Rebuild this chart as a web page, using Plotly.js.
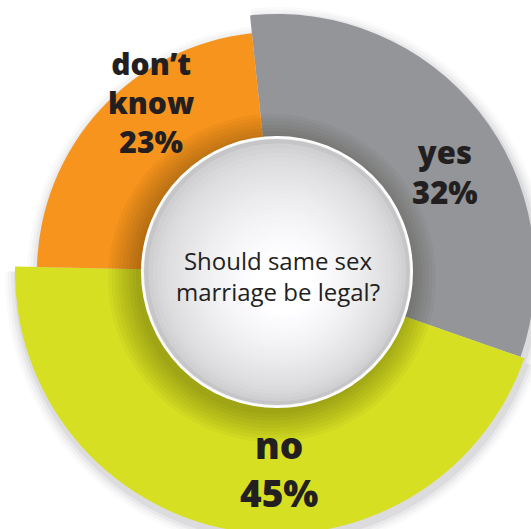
<!DOCTYPE html>
<html>
<head>
<meta charset="utf-8">
<script src="https://cdn.plot.ly/plotly-3.0.1.min.js"></script>
<style>
  html, body { margin: 0; padding: 0; width: 531px; height: 529px; overflow: hidden; background: #ffffff; }
  #chart { position: absolute; left: -23px; top: -28px; width: 600px; height: 600px; }
</style>
</head>
<body>
<div id="chart"></div>
<script>
// ---- data ----
const categories = ['yes', 'no', 'don’t know'];
const values = [32, 45, 23];
const question = 'Should same sex<br>marriage be legal?';

// ---- style ----
const colors = ['#939598', '#d7df23', '#f7941d'];
const radii = [258, 262, 240];
const labelPos = [[445, 172], [279, 468], [151, 102]];
const labelSize = [31, 37, 30];
const S = 600, OX = 23, OY = 28;
const C = [277, 272], HOLE = 134;

const px = x => (x + OX) / S;
const py = y => 1 - (y + OY) / S;

function pieTrace(i, r, dx, dy, col) {
  const cx = px(C[0] + dx), cy = py(C[1] + dy), h = r / S;
  return {
    type: 'pie', values: values, labels: categories, sort: false,
    direction: 'clockwise', rotation: -6, hole: HOLE / r,
    textinfo: 'none', hoverinfo: 'skip', showlegend: false,
    marker: { colors: values.map((v, j) => j === i ? col : 'rgba(0,0,0,0)'), line: { width: 0 } },
    domain: { x: [cx - h, cx + h], y: [cy - h, cy + h] }
  };
}

const traces = [];
// soft outer drop shadows
[[12, 0.025], [9, 0.035], [6, 0.05], [3, 0.07]].forEach(([d, a]) => {
  for (let i = 0; i < values.length; i++) traces.push(pieTrace(i, radii[i] + d, 2, 5, 'rgba(60,60,70,' + a + ')'));
});
for (let i = 0; i < values.length; i++) traces.push(pieTrace(i, radii[i], 0, 0, colors[i]));

function circ(cx, cy, r, fill, line) {
  return { type: 'circle', xref: 'paper', yref: 'paper', layer: 'above',
    x0: px(cx - r), x1: px(cx + r), y0: py(cy + r), y1: py(cy - r),
    fillcolor: fill, line: line || { width: 0 } };
}
const shapes = [];
// shadow of the centre disc falling on the ring
for (let k = 0; k < 9; k++) shapes.push(circ(C[0] - 5, C[1] + 6, HOLE + 30 - k * 3.5, 'rgba(20,20,0,0.035)'));
// centre disc with a soft grey-to-white gradient
shapes.push(circ(C[0], C[1], HOLE + 1, '#f4f4f5', { color: '#ffffff', width: 2 }));
const n = 26;
for (let k = 0; k < n; k++) {
  const t = k / (n - 1);
  const r = (HOLE - 1) * (1 - t) + 30 * t;
  const g = Math.round(198 + (255 - 198) * Math.pow(t, 0.55));
  const gb = Math.min(255, g + 2);
  shapes.push(circ(C[0] + 7 * t, C[1] + 12 * t, r, 'rgb(' + g + ',' + g + ',' + gb + ')'));
}

const annotations = categories.map((c, i) => ({
  xref: 'paper', yref: 'paper', x: px(labelPos[i][0]), y: py(labelPos[i][1]),
  xanchor: 'center', yanchor: 'middle', showarrow: false, align: 'center',
  text: c.replace(' ', '<br>') + '<br>' + values[i] + '%',
  font: { family: 'Open Sans', size: labelSize[i], color: '#231f20', weight: 800 }
}));
annotations.push({
  xref: 'paper', yref: 'paper', x: px(278), y: py(276), xanchor: 'center', yanchor: 'middle',
  showarrow: false, align: 'center', text: question,
  font: { family: 'Open Sans', size: 24, color: '#231f20', weight: 500 }
});

Plotly.newPlot('chart', traces, {
  width: S, height: S, margin: { l: 0, r: 0, t: 0, b: 0 },
  paper_bgcolor: '#ffffff', plot_bgcolor: '#ffffff', showlegend: false,
  shapes: shapes, annotations: annotations
}, { staticPlot: true });
</script>
</body>
</html>
